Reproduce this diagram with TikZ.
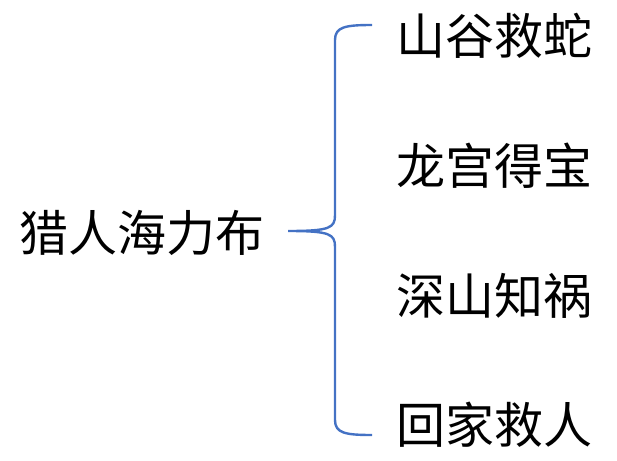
\documentclass[tikz,border=0pt]{standalone}
\usepackage{fontspec}
\newfontfamily\cjk{Noto Sans CJK SC}
\definecolor{bracecol}{HTML}{4472C4}
\begin{document}
\begin{tikzpicture}[x=1pt,y=-1pt,
  lbl/.style={font=\cjk\fontsize{49}{51}\selectfont, inner sep=0pt, anchor=west, text height=0.8em, text depth=0.2em},
  bracel/.style={draw=bracecol, line width=2.4pt, line join=round}]
\useasboundingbox (0,0) rectangle (617,460);
\node[lbl] (root) at (19,248) {猎人海力布};
\node[lbl] (a) at (396,51) {山谷救蛇};
\node[lbl] (b) at (396,181) {龙宫得宝};
\node[lbl] (c) at (396,311) {深山知祸};
\node[lbl] (d) at (396,440) {回家救人};
\coordinate (tip) at (288,231);
\coordinate (top) at (372,25);
\coordinate (bot) at (372,435);
\draw[bracel] (top) .. controls (345,25) and (335,27) .. (335,40)
  -- (335,215) .. controls (335,228) and (330,231) .. (tip)
  (tip) .. controls (330,231) and (335,234) .. (335,247)
  -- (335,420) .. controls (335,433) and (345,435) .. (bot);
\end{tikzpicture}
\end{document}
